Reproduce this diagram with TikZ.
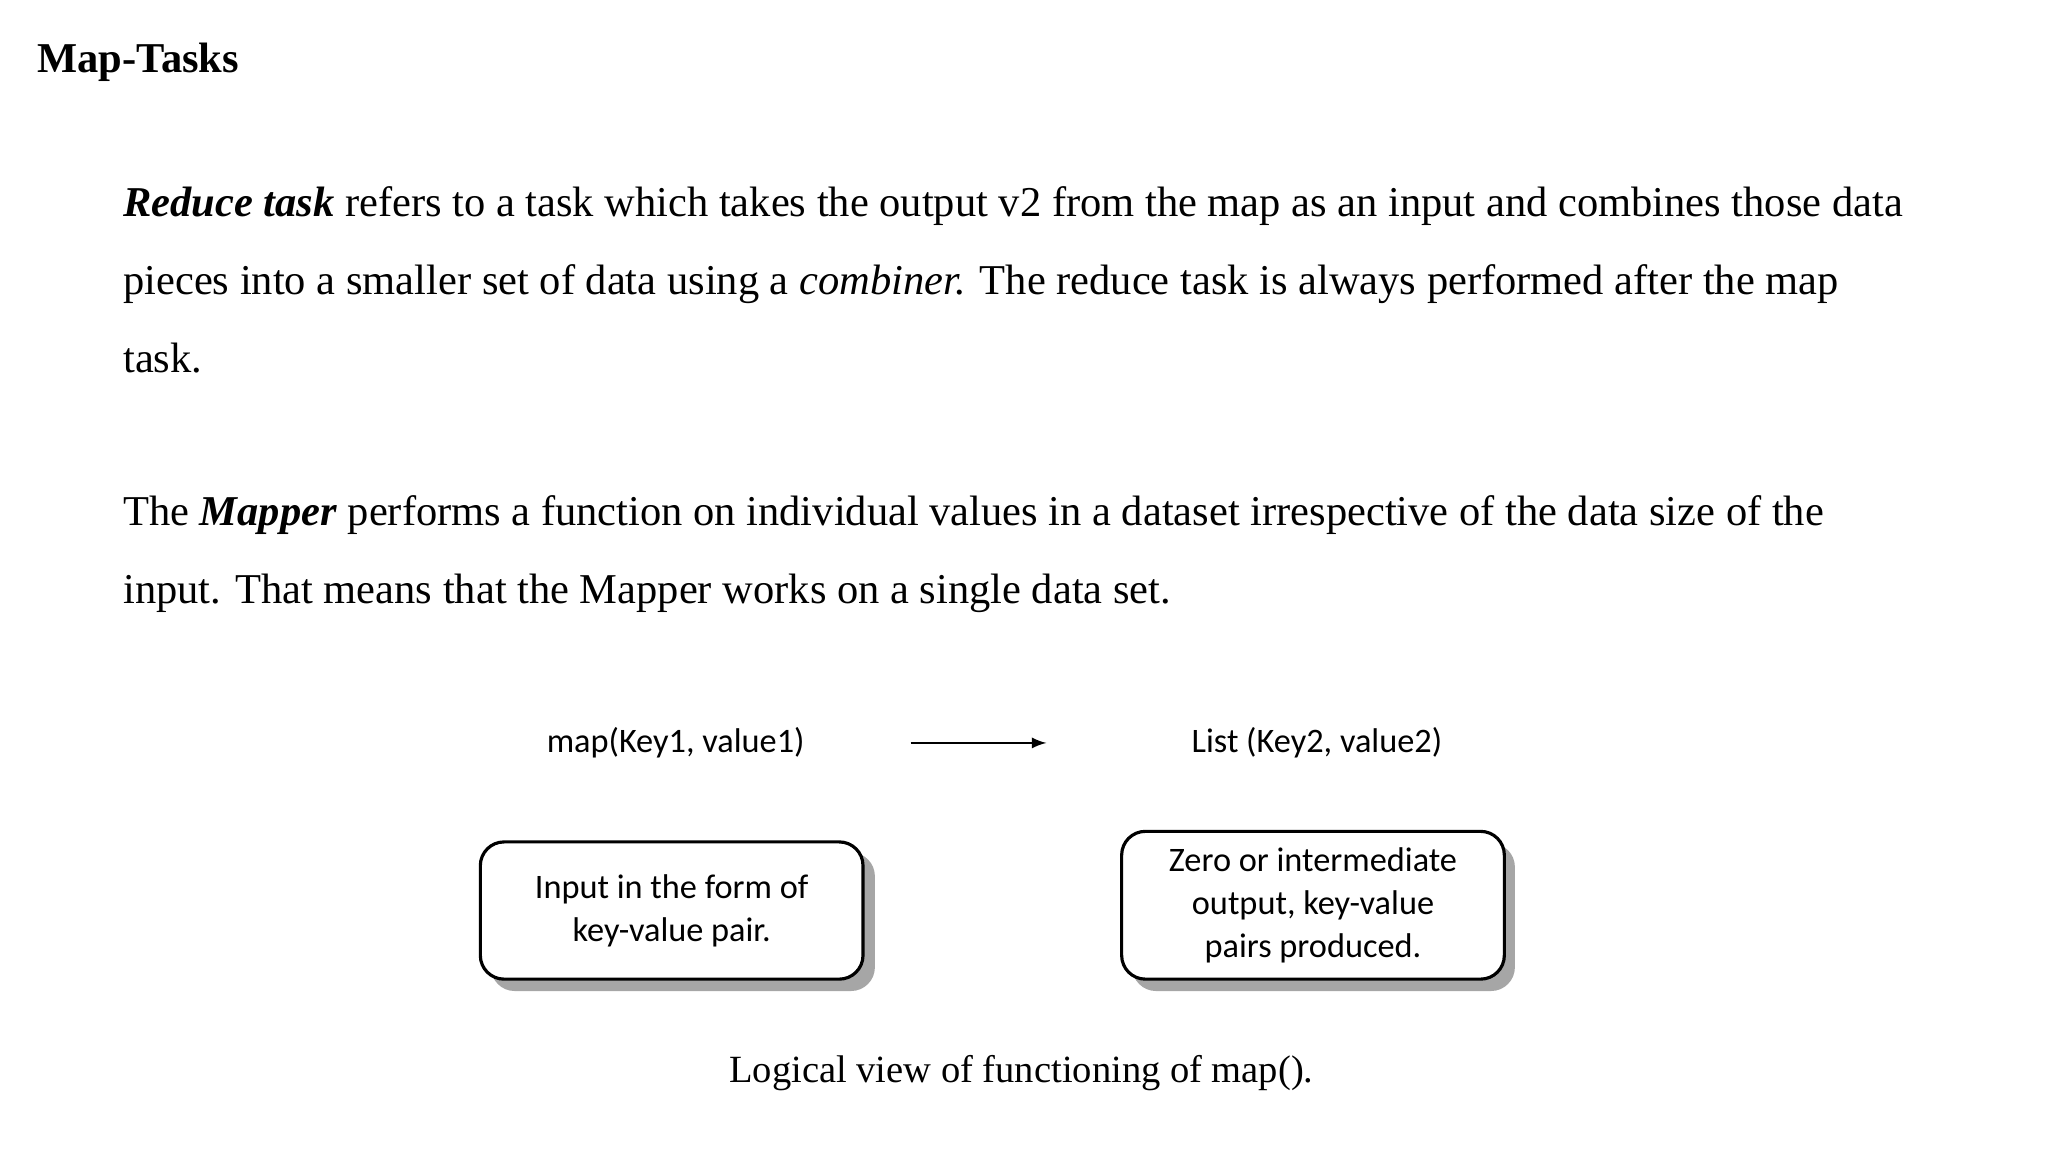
\documentclass[tikz,border=0pt]{standalone}
\usepackage{fontspec}
\setmainfont{Liberation Serif}
\newfontfamily\carlitofont{Carlito}
\begin{document}
\begin{tikzpicture}[x=0.5pt,y=-0.5pt,
  body/.style={anchor=base west,inner sep=0,font=\fontsize{16.1}{18}\selectfont},
  lab/.style={inner sep=0,font=\carlitofont\fontsize{13}{15}\selectfont},
  box/.style={draw,line width=1.2pt,rounded corners=9pt,fill=white,align=center,font=\carlitofont\fontsize{13}{16.3}\selectfont}]
\useasboundingbox (0,0) rectangle (1552,873);
\node[body,font=\bfseries\fontsize{16.1}{18}\selectfont] (t) at (28,55) {Map-Tasks};
\node[body] (l1) at (93,164) {\textbf{\textit{Reduce task}} refers to a task which takes the output v2 from the map as an input and combines those data};
\node[body] (l2) at (93,223) {pieces into a smaller set of data using a \textit{combiner.} The reduce task is always performed after the map};
\node[body] (l3) at (93,282) {task.};
\node[body] (l4) at (93,398) {The \textbf{\textit{Mapper}} performs a function on individual values in a dataset irrespective of the data size of the};
\node[body] (l5) at (93,457) {input. That means that the Mapper works on a single data set.};
\node[lab] (m) at (512,563) {map(Key1, value1)};
\node[lab] (ls) at (998,563) {List (Key2, value2)};
\coordinate (a1) at (690,563); \coordinate (a2) at (793,563);
\draw[-latex,line width=0.9pt] (a1) -- (a2);
\fill[gray!70,rounded corners=9pt] (372,646) rectangle (663,751);
\node[box,minimum width=145pt,minimum height=52pt] (b1) at (509,690) {Input in the form of\\key-value pair.};
\fill[gray!70,rounded corners=9pt] (858,639) rectangle (1148,751);
\node[box,minimum width=145pt,minimum height=56pt] (b2) at (995,686) {Zero or intermediate\\output, key-value\\pairs produced.};
\node[body,anchor=base,font=\fontsize{14.6}{18}\selectfont] (c) at (774,820) {Logical view of functioning of map().};
\end{tikzpicture}
\end{document}
